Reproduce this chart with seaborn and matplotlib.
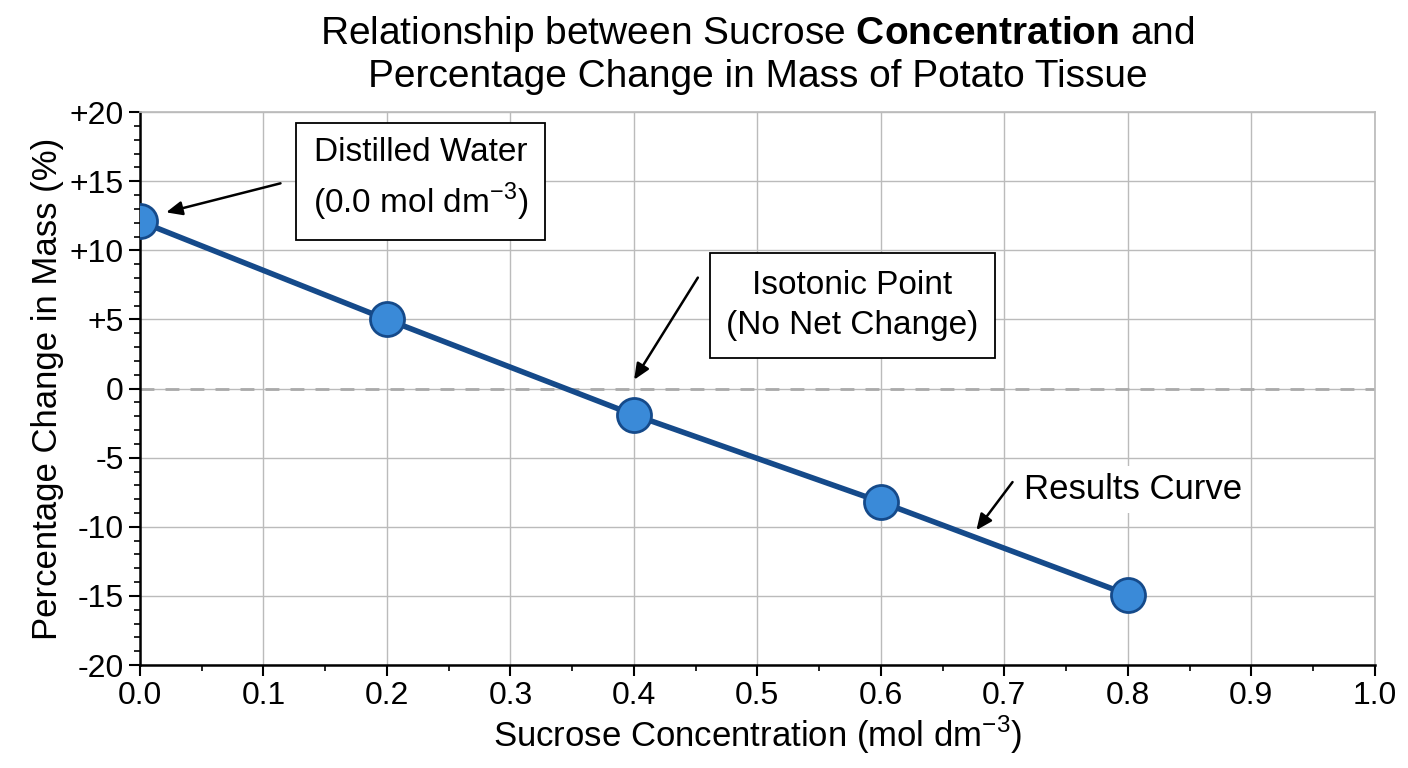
import numpy as np
import matplotlib
matplotlib.use("Agg")
import matplotlib.pyplot as plt
import seaborn as sns
import pandas as pd
from matplotlib.ticker import MultipleLocator

# data
concentration = [0.0, 0.2, 0.4, 0.6, 0.8]
mass_change = [12.1, 5.0, -1.9, -8.2, -14.9]
y_ticks = [-20, -15, -10, -5, 0, 5, 10, 15, 20]
y_labels = ["-20", "-15", "-10", "-5", "0", "+5", "+10", "+15", "+20"]

df = pd.DataFrame({"conc": concentration, "change": mass_change})

sns.set_theme(style="whitegrid")
plt.rcParams['font.family'] = ['Liberation Sans', 'DejaVu Sans']
plt.rcParams['mathtext.fontset'] = 'custom'
plt.rcParams['mathtext.rm'] = 'Liberation Sans'
plt.rcParams['mathtext.bf'] = 'Liberation Sans:bold'
plt.rcParams['text.color'] = 'black'
plt.rcParams['axes.labelcolor'] = 'black'
plt.rcParams['xtick.color'] = 'black'
plt.rcParams['ytick.color'] = 'black'

fig = plt.figure(figsize=(14.08, 7.68), dpi=100)
ax = fig.add_axes([0.0994, 0.134, 0.877, 0.72])

ax.axhline(0, color="#aaaaaa", linestyle=(0, (5, 4)), linewidth=2, zorder=1)
sns.lineplot(data=df, x="conc", y="change", ax=ax, color="#154a8a", linewidth=4, zorder=3)
sns.scatterplot(data=df, x="conc", y="change", ax=ax, s=600, color="#3a8ad8",
                edgecolor="#154a8a", linewidth=2, zorder=4)

ax.set_xlim(0, 1.0)
ax.set_ylim(-20, 20)
ax.set_xticks(np.round(np.arange(0, 1.01, 0.1), 1))
ax.set_xticklabels([f"{v:.1f}" for v in np.arange(0, 1.01, 0.1)])
ax.set_yticks(y_ticks)
ax.set_yticklabels(y_labels)
ax.xaxis.set_minor_locator(MultipleLocator(0.05))
ax.yaxis.set_minor_locator(MultipleLocator(1))
ax.tick_params(axis="both", which="major", labelsize=23, direction="out", length=8, width=1.5,
               color="black", bottom=True, left=True)
ax.tick_params(axis="both", which="minor", direction="out", length=4, width=1.2,
               color="black", bottom=True, left=True)
ax.grid(True, which="major", color="#bbbbbb", linewidth=1)
for s in ["top", "right"]:
    ax.spines[s].set_color("#bbbbbb")
for s in ["left", "bottom"]:
    ax.spines[s].set_color("black")
    ax.spines[s].set_linewidth(1.8)

ax.set_xlabel("Sucrose Concentration (mol dm$^{-3}$)", fontsize=25, labelpad=2)
ax.set_ylabel("Percentage Change in Mass (%)", fontsize=25, labelpad=4)
ax.set_title("Relationship between Sucrose $\\bf{Concentration}$ and\nPercentage Change in Mass of Potato Tissue",
             fontsize=28, pad=18)

box = dict(boxstyle="square,pad=0.5", fc="white", ec="black", lw=1.3)
arrow = dict(arrowstyle="-|>,head_length=0.8,head_width=0.35", color="black", lw=1.8)
ax.annotate("", xy=(0.019, 12.7), xytext=(0.116, 14.9), arrowprops=arrow, zorder=5)
ax.text(0.227, 15.1, "Distilled Water\n(0.0 mol dm$^{-3}$)", ha="center", va="center",
        fontsize=24, bbox=box, zorder=6, linespacing=1.4)
ax.annotate("", xy=(0.399, 0.47), xytext=(0.453, 8.2), arrowprops=arrow, zorder=5)
ax.text(0.577, 6.0, "Isotonic Point\n(No Net Change)", ha="center", va="center",
        fontsize=24, bbox=box, zorder=6, linespacing=1.4)
ax.annotate("", xy=(0.676, -10.4), xytext=(0.708, -6.6), arrowprops=arrow, zorder=5)
ax.text(0.804, -7.3, "Results Curve", ha="center", va="center", fontsize=25,
        bbox=dict(boxstyle="square,pad=0.2", fc="white", ec="none"), zorder=6)

fig.savefig("out.png", dpi=100)
